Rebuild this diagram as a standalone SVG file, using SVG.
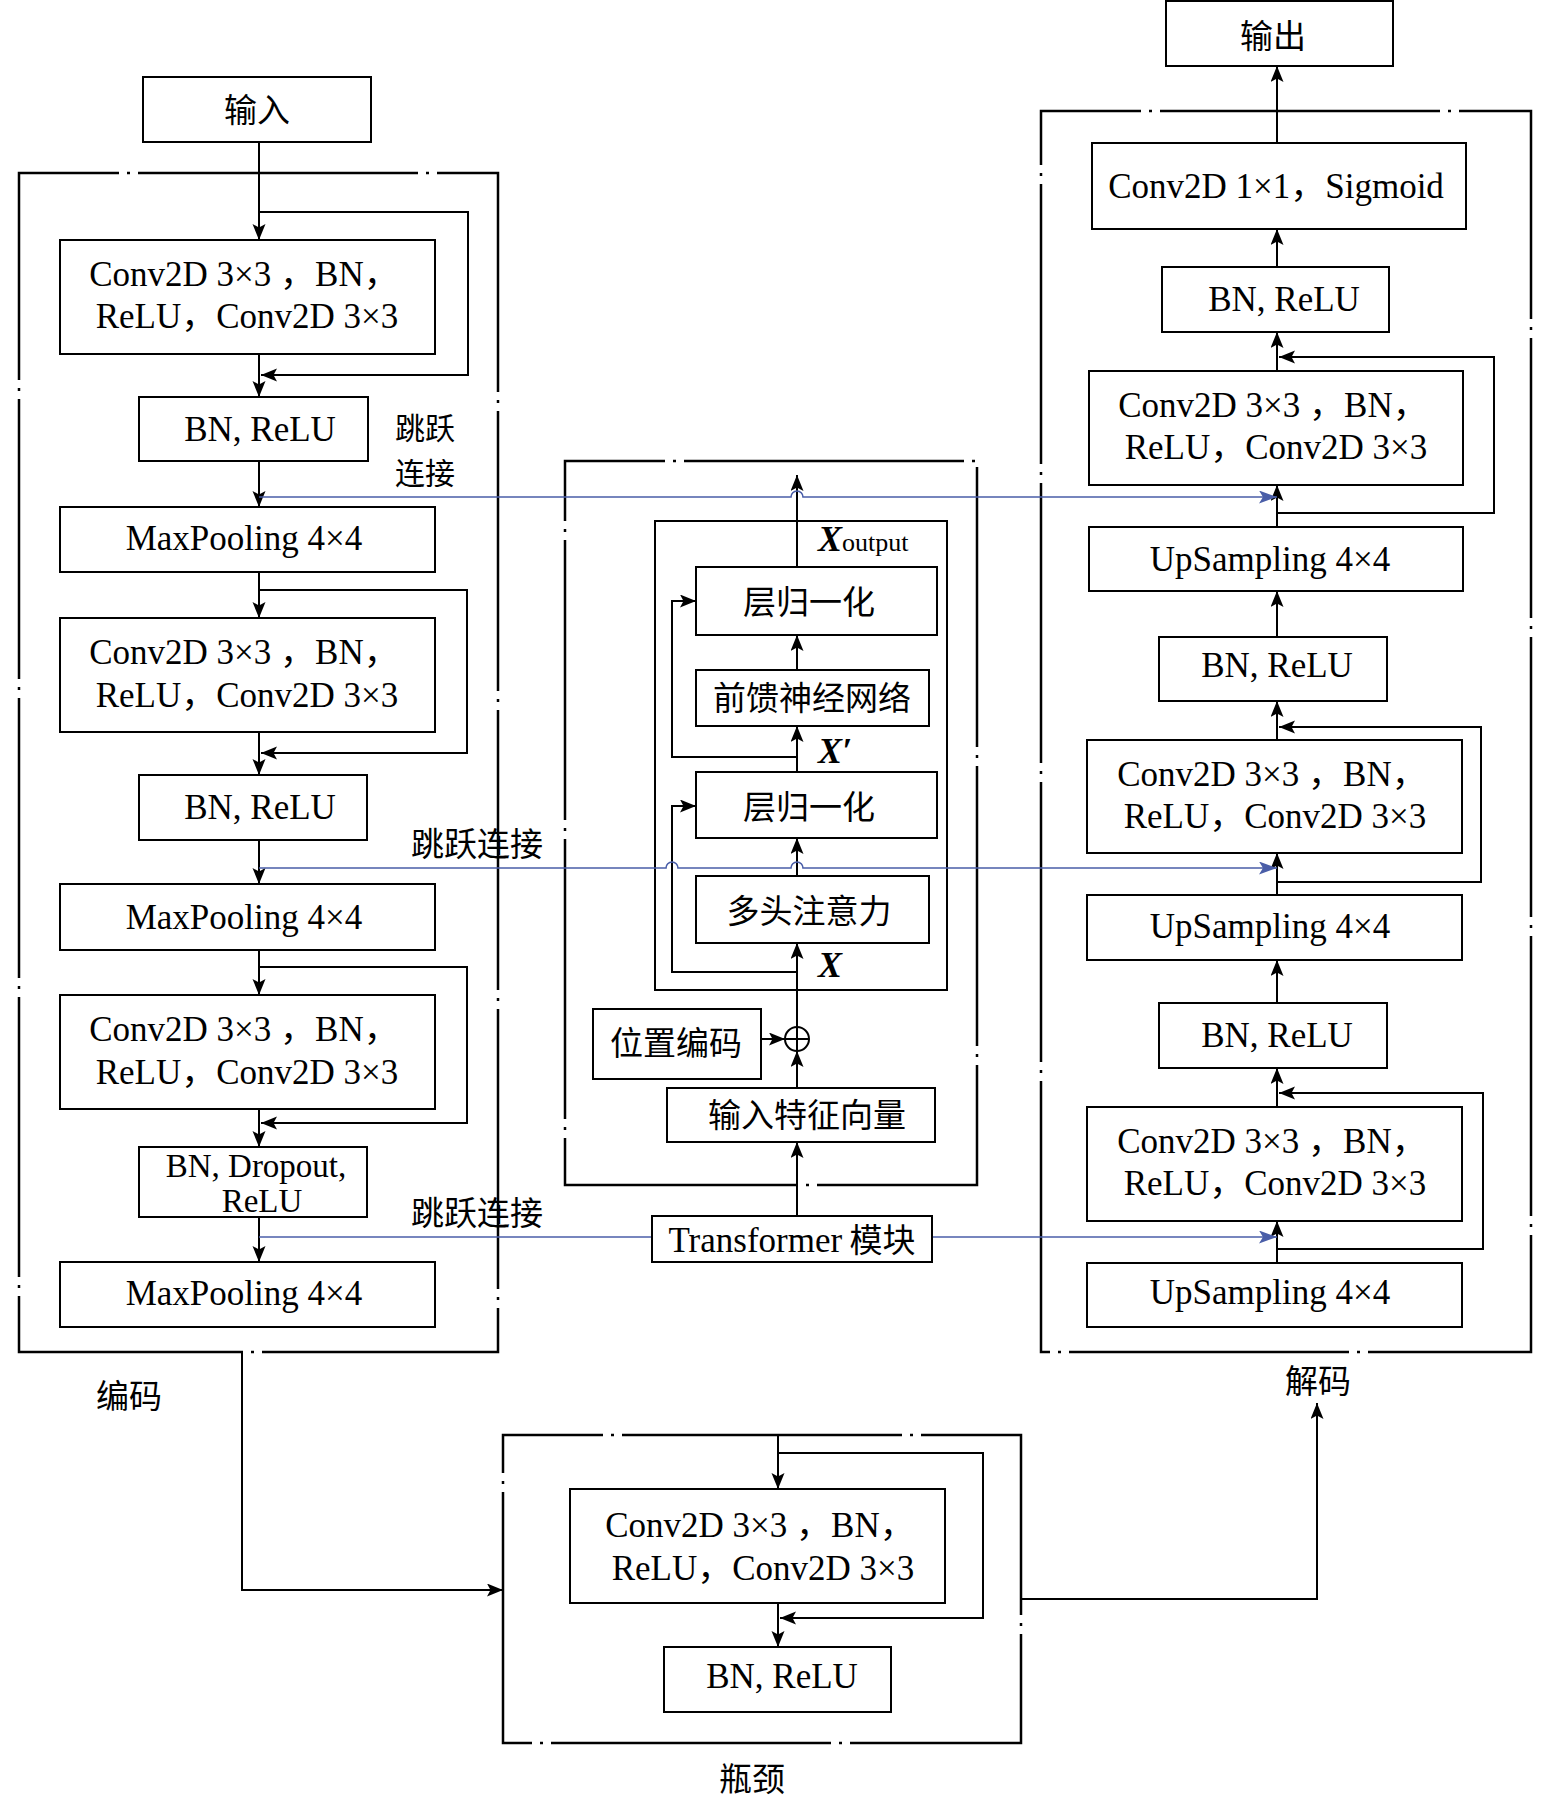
<svg xmlns="http://www.w3.org/2000/svg" width="1548" height="1800" viewBox="0 0 1548 1800">
<style>
.box{fill:#fff;stroke:#000;stroke-width:2}
.frame{fill:none;stroke:#000;stroke-width:2.5;stroke-dasharray:280 8 3 8;stroke-dashoffset:180}
.inner{fill:none;stroke:#000;stroke-width:2}
.ln{fill:none;stroke:#000;stroke-width:2}
.arr{marker-end:url(#ah)}
.blue{fill:none;stroke:#4a5ea8;stroke-width:1.6;marker-end:url(#bh)}
.bl{fill:none;stroke:#4a5ea8;stroke-width:1.6}
text{font-family:"Liberation Serif","Noto Sans CJK SC",serif;fill:#000}
.t{font-size:35px;text-anchor:middle}
.t2{font-size:33px;text-anchor:middle}
.zh{font-family:"Noto Sans CJK SC",sans-serif;font-size:33px;text-anchor:middle}
.zs{font-family:"Noto Sans CJK SC",sans-serif;font-size:30px;text-anchor:middle}
.var{font-weight:bold;font-style:italic;font-size:36px}
</style>
<defs>
<marker id="ah" markerUnits="userSpaceOnUse" markerWidth="18" markerHeight="14" refX="16" refY="6.5" orient="auto">
<path d="M0,0 L16,6.5 L0,13 L3.5,6.5 z" fill="#000"/>
</marker>
<marker id="bh" markerUnits="userSpaceOnUse" markerWidth="20" markerHeight="14" refX="18" refY="6.5" orient="auto">
<path d="M0,0 L18,6.5 L0,13 L4,6.5 z" fill="#4a5ea8"/>
</marker>
</defs>

<!-- frames -->
<g id="frames">
<rect id="encoder-frame" class="frame" x="19" y="173" width="479" height="1179"/>
<rect id="transformer-frame" class="frame" x="565" y="461" width="412" height="724"/>
<rect id="decoder-frame" class="frame" x="1041" y="111" width="490" height="1241"/>
<rect id="bottleneck-frame" class="frame" x="503" y="1435" width="518" height="308"/>
<rect id="transformer-inner" class="inner" x="655" y="521" width="292" height="469"/>
</g>

<!-- connectors -->
<g id="connectors">
<!-- encoder -->
<path class="ln arr" d="M259,142 V240"/>
<path class="ln arr" d="M259,212 H468 V375 H261"/>
<path class="ln arr" d="M259,354 V397"/>
<path class="ln arr" d="M259,461 V507"/>
<path class="ln arr" d="M259,572 V618"/>
<path class="ln arr" d="M259,590 H467 V753 H261"/>
<path class="ln arr" d="M259,732 V775"/>
<path class="ln arr" d="M259,840 V884"/>
<path class="ln arr" d="M259,950 V995"/>
<path class="ln arr" d="M259,967 H467 V1123 H261"/>
<path class="ln arr" d="M259,1109 V1147"/>
<path class="ln arr" d="M259,1217 V1262"/>
<path class="ln arr" d="M242,1352 V1590 H503"/>
<!-- transformer -->
<path class="ln arr" d="M797,1216 V1142"/>
<path class="ln arr" d="M797,1088 V1051"/>
<path class="ln arr" d="M761,1039 H785"/>
<path class="ln arr" d="M797,1027 V943"/>
<path class="ln arr" d="M797,972 H672 V806 H696"/>
<path class="ln arr" d="M797,876 V838"/>
<path class="ln arr" d="M797,772 V726"/>
<path class="ln arr" d="M797,757 H672 V601 H696"/>
<path class="ln arr" d="M797,670 V635"/>
<path class="ln arr" d="M797,567 V475"/>
<!-- decoder -->
<path class="ln arr" d="M1277,1263 V1221"/>
<path class="ln arr" d="M1277,1249 H1483 V1093 H1279"/>
<path class="ln arr" d="M1277,1107 V1068"/>
<path class="ln arr" d="M1277,1003 V960"/>
<path class="ln arr" d="M1277,895 V853"/>
<path class="ln arr" d="M1277,882 H1481 V727 H1279"/>
<path class="ln arr" d="M1277,740 V701"/>
<path class="ln arr" d="M1277,637 V591"/>
<path class="ln arr" d="M1277,527 V485"/>
<path class="ln arr" d="M1277,513 H1494 V357 H1279"/>
<path class="ln arr" d="M1277,371 V332"/>
<path class="ln arr" d="M1277,267 V229"/>
<path class="ln arr" d="M1277,143 V66"/>
<!-- bottleneck -->
<path class="ln arr" d="M778,1435 V1489"/>
<path class="ln arr" d="M778,1453 H983 V1618 H780"/>
<path class="ln arr" d="M778,1603 V1647"/>
<path class="ln arr" d="M1021,1599 H1317 V1403"/>
<!-- skip connections -->
<path class="blue" d="M259,497 H791 a6,6 0 0 1 12,0 H1277"/>
<path class="blue" d="M259,868 H666 a6,6 0 0 1 12,0 H791 a6,6 0 0 1 12,0 H1277"/>
<path class="bl" d="M259,1237 H652"/>
<path class="blue" d="M932,1237 H1277"/>
</g>

<!-- encoder nodes -->
<g id="n-input"><rect class="box" x="143" y="77" width="228" height="65"/><text class="zh" x="257" y="122">输入</text></g>
<g id="n-enc-conv1"><rect class="box" x="60" y="240" width="375" height="114"/><text class="t" x="244" y="286">Conv2D 3×3 ，BN，</text><text class="t" x="247" y="328">ReLU，Conv2D 3×3</text></g>
<g id="n-enc-bn1"><rect class="box" x="139" y="397" width="229" height="64"/><text class="t" x="260" y="441">BN, ReLU</text></g>
<g id="n-enc-pool1"><rect class="box" x="60" y="507" width="375" height="65"/><text class="t" x="244" y="550">MaxPooling 4×4</text></g>
<g id="n-enc-conv2"><rect class="box" x="60" y="618" width="375" height="114"/><text class="t" x="244" y="664">Conv2D 3×3 ，BN，</text><text class="t" x="247" y="707">ReLU，Conv2D 3×3</text></g>
<g id="n-enc-bn2"><rect class="box" x="139" y="775" width="228" height="65"/><text class="t" x="260" y="819">BN, ReLU</text></g>
<g id="n-enc-pool2"><rect class="box" x="60" y="884" width="375" height="66"/><text class="t" x="244" y="929">MaxPooling 4×4</text></g>
<g id="n-enc-conv3"><rect class="box" x="60" y="995" width="375" height="114"/><text class="t" x="244" y="1041">Conv2D 3×3 ，BN，</text><text class="t" x="247" y="1084">ReLU，Conv2D 3×3</text></g>
<g id="n-enc-bn3"><rect class="box" x="139" y="1147" width="228" height="70"/><text class="t2" x="256" y="1177">BN, Dropout,</text><text class="t2" x="262" y="1212">ReLU</text></g>
<g id="n-enc-pool3"><rect class="box" x="60" y="1262" width="375" height="65"/><text class="t" x="244" y="1305">MaxPooling 4×4</text></g>

<!-- transformer nodes -->
<g id="n-ln2"><rect class="box" x="696" y="567" width="241" height="68"/><text class="zh" x="809" y="614">层归一化</text></g>
<g id="n-ffn"><rect class="box" x="696" y="670" width="233" height="56"/><text class="zh" x="812" y="710">前馈神经网络</text></g>
<g id="n-ln1"><rect class="box" x="696" y="772" width="241" height="66"/><text class="zh" x="809" y="819">层归一化</text></g>
<g id="n-mha"><rect class="box" x="696" y="876" width="233" height="67"/><text class="zh" x="809" y="923">多头注意力</text></g>
<g id="n-pos"><rect class="box" x="593" y="1009" width="168" height="70"/><text class="zh" x="676" y="1055">位置编码</text></g>
<g id="n-add"><circle cx="797" cy="1039" r="12" fill="#fff" stroke="#000" stroke-width="2"/><path class="ln" d="M785,1039 H809 M797,1027 V1051"/></g>
<g id="n-feat"><rect class="box" x="667" y="1088" width="268" height="54"/><text class="zh" x="807" y="1127">输入特征向量</text></g>
<g id="n-transformer"><rect class="box" x="652" y="1216" width="280" height="46"/><text class="t" x="792" y="1252">Transformer<tspan font-family="Noto Sans CJK SC,sans-serif" font-size="33"> 模块</tspan></text></g>

<!-- decoder nodes -->
<g id="n-output"><rect class="box" x="1166" y="1" width="227" height="65"/><text class="zh" x="1273" y="48">输出</text></g>
<g id="n-dec-final"><rect class="box" x="1092" y="143" width="374" height="86"/><text class="t" x="1276" y="198">Conv2D 1×1，Sigmoid</text></g>
<g id="n-dec-bn1"><rect class="box" x="1162" y="267" width="227" height="65"/><text class="t" x="1284" y="311">BN, ReLU</text></g>
<g id="n-dec-conv1"><rect class="box" x="1089" y="371" width="374" height="114"/><text class="t" x="1273" y="417">Conv2D 3×3 ，BN，</text><text class="t" x="1276" y="459">ReLU，Conv2D 3×3</text></g>
<g id="n-dec-up1"><rect class="box" x="1089" y="527" width="374" height="64"/><text class="t" x="1270" y="571">UpSampling 4×4</text></g>
<g id="n-dec-bn2"><rect class="box" x="1159" y="637" width="228" height="64"/><text class="t" x="1277" y="677">BN, ReLU</text></g>
<g id="n-dec-conv2"><rect class="box" x="1087" y="740" width="375" height="113"/><text class="t" x="1272" y="786">Conv2D 3×3 ，BN，</text><text class="t" x="1275" y="828">ReLU，Conv2D 3×3</text></g>
<g id="n-dec-up2"><rect class="box" x="1087" y="895" width="375" height="65"/><text class="t" x="1270" y="938">UpSampling 4×4</text></g>
<g id="n-dec-bn3"><rect class="box" x="1159" y="1003" width="228" height="65"/><text class="t" x="1277" y="1047">BN, ReLU</text></g>
<g id="n-dec-conv3"><rect class="box" x="1087" y="1107" width="375" height="114"/><text class="t" x="1272" y="1153">Conv2D 3×3 ，BN，</text><text class="t" x="1275" y="1195">ReLU，Conv2D 3×3</text></g>
<g id="n-dec-up3"><rect class="box" x="1087" y="1263" width="375" height="64"/><text class="t" x="1270" y="1304">UpSampling 4×4</text></g>

<!-- bottleneck nodes -->
<g id="n-bot-conv"><rect class="box" x="570" y="1489" width="375" height="114"/><text class="t" x="760" y="1537">Conv2D 3×3 ，BN，</text><text class="t" x="763" y="1580">ReLU，Conv2D 3×3</text></g>
<g id="n-bot-bn"><rect class="box" x="664" y="1647" width="227" height="65"/><text class="t" x="782" y="1688">BN, ReLU</text></g>

<!-- labels -->
<g id="labels">
<text class="zs" x="425" y="439">跳跃</text>
<text class="zs" x="425" y="484">连接</text>
<text class="zh" x="477" y="856">跳跃连接</text>
<text class="zh" x="477" y="1225">跳跃连接</text>
<text class="zh" x="129" y="1408">编码</text>
<text class="zh" x="1318" y="1393">解码</text>
<text class="zh" x="752" y="1791">瓶颈</text>
<text class="var" x="818" y="551">X<tspan font-weight="normal" font-style="normal" font-size="26">output</tspan></text>
<text class="var" x="818" y="763">X′</text>
<text class="var" x="818" y="977">X</text>
</g>
</svg>
